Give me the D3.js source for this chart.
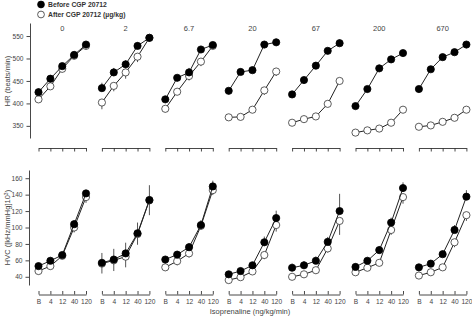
<!DOCTYPE html>
<html>
<head>
<meta charset="utf-8">
<script src="https://cdn.jsdelivr.net/npm/d3@7"></script>
<style>
  body { margin: 0; background: #fff; }
  svg { display: block; font-family: "Liberation Sans", Arial, sans-serif; }
</style>
</head>
<body>
<svg id="chart" width="472" height="317"></svg>
<script>
// Dosen (Panels) und Isoprenalin-Stufen
const doses = ["0", "2", "6.7", "20", "67", "200", "670"];
const isoLevels = ["B", "4", "12", "40", "120"];

// HR (beats/min) vor / nach CGP 20712
const hrBefore = [
  [425, 455, 483, 508, 531],
  [434, 469, 487, 528, 546],
  [409, 457, 469, 520, 530],
  [428, 470, 474, 531, 536],
  [420, 452, 484, 517, 534],
  [394, 432, 478, 498, 512],
  [432, 476, 503, 514, 531]
];
const hrAfter = [
  [409, 438, 477, 506, 528],
  [402, 439, 469, 504, 546],
  [388, 426, 461, 493, 528],
  [369, 370, 386, 429, 471],
  [357, 365, 371, 399, 450],
  [335, 340, 344, 357, 386],
  [348, 351, 359, 368, 386]
];
const hrBeforeErr = [
  [8, 6, 5, 5, 4],
  [12, 10, 9, 8, 5],
  [5, 6, 10, 8, 6],
  [5, 5, 5, 8, 8],
  [6, 6, 8, 6, 8],
  [5, 6, 8, 6, 5],
  [5, 5, 5, 5, 5]
];
const hrAfterErr = [
  [6, 5, 8, 5, 5],
  [15, 12, 14, 12, 5],
  [8, 6, 10, 10, 6],
  [5, 5, 5, 10, 10],
  [5, 5, 5, 5, 6],
  [5, 5, 5, 5, 5],
  [5, 5, 5, 5, 5]
];

// HVC ([kHz/mmHg]10^3) vor / nach CGP 20712
const hvcBefore = [
  [53, 59.5, 66.5, 104, 141.5],
  [57, 61, 68.5, 93, 133.5],
  [61, 67, 76, 103, 150],
  [43, 47, 54, 82, 111.5],
  [51, 54, 59.5, 82.5, 120],
  [52, 59.5, 72.5, 106, 148],
  [51.5, 56, 67.5, 97, 137.5]
];
const hvcAfter = [
  [47, 53, 65.5, 100, 137],
  [56, 60, 64.5, 92, 133],
  [51.5, 59, 68.5, 102, 145.5],
  [36, 39.5, 46.5, 66.5, 103],
  [40, 43, 48, 74.5, 108],
  [45.5, 51, 57, 97, 137],
  [41.5, 45.5, 51.5, 82, 115]
];
const hvcBeforeErr = [
  [4, 4, 3, 5, 4],
  [12, 13, 13, 13, 18],
  [4, 4, 5, 6, 7],
  [4, 4, 4, 7, 9],
  [5, 5, 5, 6, 21],
  [4, 4, 5, 6, 7],
  [4, 4, 4, 6, 8]
];
const hvcAfterErr = [
  [4, 4, 3, 6, 7],
  [12, 13, 13, 13, 18],
  [4, 5, 5, 5, 6],
  [3, 3, 4, 5, 8],
  [4, 4, 4, 5, 17],
  [3, 3, 4, 6, 8],
  [3, 3, 3, 6, 7]
];

const hrTicks = [350, 400, 450, 500, 550];
const hvcTicks = [40, 60, 80, 100, 120, 140, 160];

// Layout
const svg = d3.select("#chart");
const panelPitch = 63.4;
const panelX0 = 38.5;
const panelW = 47.5;

const yHR = d3.scaleLinear().domain([323, 579]).range([138, 23]);
const yHVC = d3.scaleLinear().domain([30, 170]).range([285, 170]);

const axisColor = "#333";
const textColor = "#444";

function styleAxis(g) {
  g.selectAll("path, line").attr("stroke", axisColor).attr("stroke-width", 0.9);
  g.selectAll("text").attr("fill", textColor).style("font-size", "6.6px");
}

// Y-Achsen
const gyHR = svg.append("g").attr("transform", "translate(30,0)")
  .call(d3.axisLeft(yHR).tickValues(hrTicks).tickSize(3.5).tickSizeOuter(0).tickPadding(3));
styleAxis(gyHR);
const gyHVC = svg.append("g").attr("transform", "translate(29,0)")
  .call(d3.axisLeft(yHVC).tickValues(hvcTicks).tickSize(3.5).tickSizeOuter(0).tickPadding(3));
styleAxis(gyHVC);

svg.append("text")
  .attr("transform", `translate(10,${yHR(450)}) rotate(-90)`)
  .attr("text-anchor", "middle")
  .attr("fill", textColor)
  .style("font-size", "7.5px")
  .text("HR (beats/min)");

const hvcLabel = svg.append("text")
  .attr("transform", `translate(10,${yHVC(100)}) rotate(-90)`)
  .attr("text-anchor", "middle")
  .attr("fill", textColor)
  .style("font-size", "7.5px");
hvcLabel.append("tspan").text("HVC ([kHz/mmHg]10");
hvcLabel.append("tspan").attr("dy", -2.5).style("font-size", "5px").text("3");
hvcLabel.append("tspan").attr("dy", 2.5).text(")");

// Eine Messreihe zeichnen
function drawSeries(g, x, y, vals, errs, filled, errDir) {
  const pts = isoLevels.map((k, i) => ({ k, v: vals[i], e: errs[i] }));

  g.append("g").selectAll("line")
    .data(pts)
    .join("line")
    .attr("x1", d => x(d.k)).attr("x2", d => x(d.k))
    .attr("y1", d => y(d.v)).attr("y2", d => y(d.v + errDir * d.e))
    .attr("stroke", "#555").attr("stroke-width", 1);

  g.append("path")
    .datum(pts)
    .attr("fill", "none")
    .attr("stroke", "#222")
    .attr("stroke-width", 1)
    .attr("d", d3.line().x(d => x(d.k)).y(d => y(d.v)));

  g.append("g").selectAll("circle")
    .data(pts)
    .join("circle")
    .attr("cx", d => x(d.k)).attr("cy", d => y(d.v))
    .attr("r", 3.6)
    .attr("fill", filled ? "#000" : "#fff")
    .attr("stroke", filled ? "#000" : "#333")
    .attr("stroke-width", 0.8);
}

doses.forEach((dose, p) => {
  const x0 = panelX0 + p * panelPitch;
  const x = d3.scalePoint().domain(isoLevels).range([x0, x0 + panelW]);

  // Panel-Beschriftung
  svg.append("text")
    .attr("x", x0 + panelW / 2).attr("y", 31)
    .attr("text-anchor", "middle")
    .attr("fill", textColor)
    .style("font-size", "7.5px")
    .text(dose);

  // X-Achse oben (ohne Beschriftung)
  const gxTop = svg.append("g").attr("transform", "translate(0,148)")
    .call(d3.axisBottom(x).tickSize(3.5).tickSizeOuter(0).tickFormat(""));
  styleAxis(gxTop);

  // X-Achse unten
  const gxBot = svg.append("g").attr("transform", "translate(0,294.5)")
    .call(d3.axisBottom(x).tickSize(-3.5).tickSizeOuter(0).tickPadding(4));
  styleAxis(gxBot);
  gxBot.selectAll("text").attr("dy", "0.9em");

  const gTop = svg.append("g");
  drawSeries(gTop, x, yHR, hrAfter[p], hrAfterErr[p], false, -1);
  drawSeries(gTop, x, yHR, hrBefore[p], hrBeforeErr[p], true, 1);

  const gBot = svg.append("g");
  drawSeries(gBot, x, yHVC, hvcAfter[p], hvcAfterErr[p], false, -1);
  drawSeries(gBot, x, yHVC, hvcBefore[p], hvcBeforeErr[p], true, 1);
});

// X-Achsentitel
svg.append("text")
  .attr("x", 250).attr("y", 314)
  .attr("text-anchor", "middle")
  .attr("fill", textColor)
  .style("font-size", "7.5px")
  .text("Isoprenaline (ng/kg/min)");

// Legende
const legend = svg.append("g").attr("transform", "translate(41,4.5)");
[["Before CGP 20712", true], ["After CGP 20712 (\u00b5g/kg)", false]].forEach(([label, filled], i) => {
  const item = legend.append("g").attr("transform", `translate(0,${i * 10})`);
  item.append("circle")
    .attr("r", 3.4)
    .attr("fill", filled ? "#000" : "#fff")
    .attr("stroke", filled ? "#000" : "#333")
    .attr("stroke-width", 0.8);
  item.append("text")
    .attr("x", 7).attr("y", 2.5)
    .attr("fill", "#333")
    .style("font-size", "6.8px")
    .style("font-weight", "bold")
    .text(label);
});
</script>
</body>
</html>
